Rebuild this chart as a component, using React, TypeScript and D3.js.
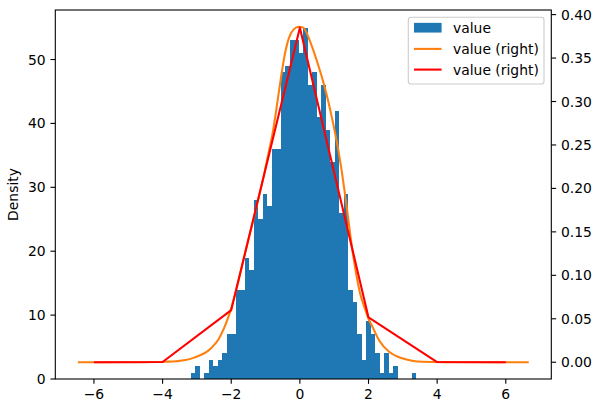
import React from "react";
import * as d3 from "d3";

// ---- data ----
const histMin = -3.184;
const histMax = 3.385;
const histCounts = [
  1, 2, 0, 1, 3, 2, 3, 4, 7, 7,
  14, 14, 19, 17, 28, 25, 29, 27, 36, 36,
  48, 49, 53, 53, 51, 55, 46, 48, 41, 46,
  39, 34, 42, 26, 29, 14, 12, 7, 3, 9,
  7, 4, 1, 4, 1, 2, 0, 0, 0, 1,
];

const kdeX = [
  -6.469, -5.0, -4.3, -3.9, -3.6, -3.33, -3.1, -2.94, -2.75, -2.55,
  -2.36, -2.2, -2.04, -1.87, -1.6, -1.3, -1.05, -0.9, -0.8, -0.7,
  -0.56, -0.45, -0.32, -0.18, -0.03, 0.1, 0.26, 0.4, 0.55, 0.7,
  0.84, 1.03, 1.2, 1.37, 1.52, 1.63, 1.75, 1.91, 2.02, 2.1,
  2.31, 2.6, 3.0, 3.3, 3.57, 4.2, 5.0, 6.669,
];
const kdeY = [
  0, 0, 0.0002, 0.0006, 0.0012, 0.0025, 0.005, 0.0075, 0.011, 0.0176,
  0.027, 0.04, 0.057, 0.081, 0.125, 0.173, 0.215, 0.243, 0.262, 0.287,
  0.325, 0.352, 0.373, 0.383, 0.386, 0.385, 0.373, 0.358, 0.34, 0.32,
  0.298, 0.263, 0.225, 0.177, 0.132, 0.104, 0.08, 0.06, 0.048, 0.042,
  0.025, 0.012, 0.0043, 0.0015, 0.0005, 0.0001, 0, 0,
];

const pointX = [-6, -4, -2, 0, 2, 4, 6];
const pointY = [0, 0.0003, 0.06, 0.385, 0.0515, 0.0002, 0];

const xTicks = [-6, -4, -2, 0, 2, 4, 6];
const leftTicks = [0, 10, 20, 30, 40, 50];
const rightTicks = [0, 0.05, 0.1, 0.15, 0.2, 0.25, 0.3, 0.35, 0.4];

const legendLabels = ["value", "value (right)", "value (right)"];

// ---- layout ----
const W = 600;
const H = 413;
const L = 55.3;
const R = 551.3;
const T = 10;
const B = 379;
const FONT = "DejaVu Sans, sans-serif";
const FS = 13.9;
const BLUE = "#1f77b4";
const ORANGE = "#ff7f0e";
const RED = "#ff0000";

const fmtMinus = (v: number, f: (n: number) => string) =>
  v < 0 ? "\u2212" + f(-v) : f(v);

export default function App() {
  const x = d3.scaleLinear().domain([-7.126, 7.326]).range([L, R]);
  const yL = d3.scaleLinear().domain([0, 57.75]).range([B, T]);
  const yR = d3.scaleLinear().domain([-0.0193, 0.4053]).range([B, T]);

  const nb = histCounts.length;
  const bw = (histMax - histMin) / nb;
  const bars = histCounts.map((c, i) => ({
    x0: histMin + i * bw,
    x1: histMin + (i + 1) * bw,
    c,
  }));

  const kdePts: [number, number][] = kdeX.map((v, i) => [v, kdeY[i]]);
  const redPts: [number, number][] = pointX.map((v, i) => [v, pointY[i]]);

  const kdeLine = d3
    .line<[number, number]>()
    .x((d) => x(d[0]))
    .y((d) => yR(d[1]))
    .curve(d3.curveMonotoneX);
  const redLine = d3
    .line<[number, number]>()
    .x((d) => x(d[0]))
    .y((d) => yR(d[1]));

  const tickLen = 4.86;
  const pad = 4.86;

  // legend geometry
  const lgX0 = 408.3;
  const lgY0 = 17.3;
  const lgW = 544 - 408.3;
  const lgH = 84 - 17.3;
  const rowY = [27.7, 48.9, 69.6];
  const hx0 = 414;
  const hx1 = 441.6;
  const tx = 453;

  return (
    <svg width={W} height={H} style={{ display: "block", position: "absolute", left: 0, top: 0 }}>
      <rect x={0} y={0} width={W} height={H} fill="white" />
      {/* bars */}
      <g>
        {bars.map((b, i) =>
          b.c > 0 ? (
            <rect
              key={i}
              x={x(b.x0)}
              y={yL(b.c)}
              width={x(b.x1) - x(b.x0)}
              height={yL(0) - yL(b.c)}
              fill={BLUE}
              shapeRendering="crispEdges"
            />
          ) : null
        )}
      </g>
      {/* lines */}
      <path d={kdeLine(kdePts) || ""} fill="none" stroke={ORANGE} strokeWidth={2.08} strokeLinejoin="round" />
      <path d={redLine(redPts) || ""} fill="none" stroke={RED} strokeWidth={2.08} strokeLinejoin="round" />

      {/* frame */}
      <rect x={L} y={T} width={R - L} height={B - T} fill="none" stroke="black" strokeWidth={1.1} />

      {/* axes */}
      <g fontFamily={FONT} fontSize={FS} fill="black">
        {xTicks.map((t) => (
          <g key={"x" + t}>
            <line x1={x(t)} x2={x(t)} y1={B} y2={B + tickLen} stroke="black" strokeWidth={1.1} />
            <text x={x(t)} y={B + tickLen + pad + 10.5} textAnchor="middle">
              {fmtMinus(t, (n) => String(n))}
            </text>
          </g>
        ))}
        {leftTicks.map((t) => (
          <g key={"l" + t}>
            <line x1={L - tickLen} x2={L} y1={yL(t)} y2={yL(t)} stroke="black" strokeWidth={1.1} />
            <text x={L - tickLen - pad} y={yL(t) + 5} textAnchor="end">
              {String(t)}
            </text>
          </g>
        ))}
        {rightTicks.map((t) => (
          <g key={"r" + t}>
            <line x1={R} x2={R + tickLen} y1={yR(t)} y2={yR(t)} stroke="black" strokeWidth={1.1} />
            <text x={R + tickLen + pad} y={yR(t) + 5} textAnchor="start">
              {d3.format(".2f")(t)}
            </text>
          </g>
        ))}
        <text
          transform={`translate(${18},${(T + B) / 2}) rotate(-90)`}
          textAnchor="middle"
        >
          Density
        </text>
      </g>

      {/* legend */}
      <g fontFamily={FONT} fontSize={FS}>
        <rect
          x={lgX0}
          y={lgY0}
          width={lgW}
          height={lgH}
          rx={2.8}
          fill="white"
          fillOpacity={0.8}
          stroke="#cccccc"
          strokeWidth={1.1}
        />
        <rect x={hx0} y={rowY[0] - 4.85} width={hx1 - hx0} height={9.7} fill={BLUE} />
        <line x1={hx0} x2={hx1} y1={rowY[1]} y2={rowY[1]} stroke={ORANGE} strokeWidth={2.08} />
        <line x1={hx0} x2={hx1} y1={rowY[2]} y2={rowY[2]} stroke={RED} strokeWidth={2.08} />
        {legendLabels.map((s, i) => (
          <text key={i} x={tx} y={rowY[i] + 5.3} fill="black">
            {s}
          </text>
        ))}
      </g>
    </svg>
  );
}
